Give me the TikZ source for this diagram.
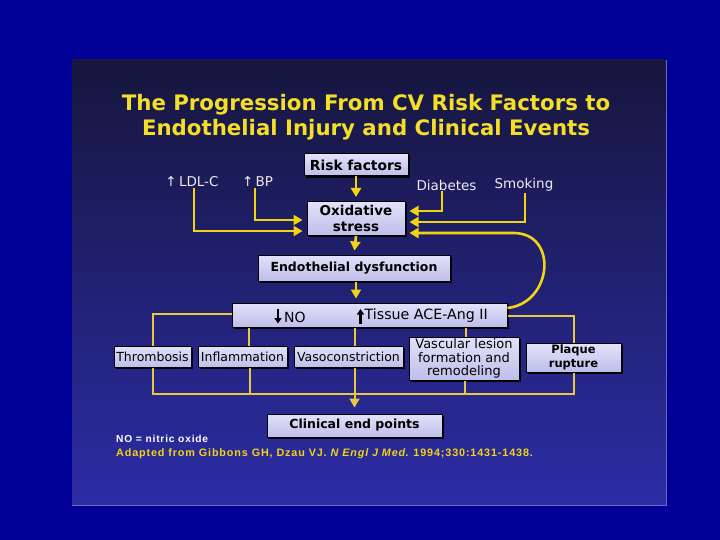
\documentclass[tikz,border=0pt]{standalone}
\usepackage{fontspec}
\setmainfont{DejaVu Sans}
\newfontfamily\arialf{Liberation Sans}[LetterSpace=8]
\usetikzlibrary{arrows.meta,shadows,calc}
\definecolor{outerbg}{RGB}{0,0,150}
\definecolor{paneltop}{RGB}{22,22,62}
\definecolor{panelbot}{RGB}{44,44,166}
\definecolor{ylw}{RGB}{242,212,20}
\definecolor{ttl}{RGB}{244,222,40}
\definecolor{ylwline}{RGB}{232,200,60}
\definecolor{boxtop}{RGB}{226,226,250}
\definecolor{boxbot}{RGB}{190,190,234}
\definecolor{lbl}{RGB}{236,236,242}
\tikzset{
  box/.style={draw=black, line width=1pt, top color=boxtop, bottom color=boxbot,
    inner sep=1pt, align=center, text=black,
    drop shadow={shadow xshift=1.6pt, shadow yshift=-1.6pt, opacity=0.9, fill=black}},
  boldtxt/.style={font=\fontsize{12.5}{14}\selectfont\bfseries},
  plaintxt/.style={font=\fontsize{12.5}{13.5}\selectfont},
  lbltxt/.style={text=lbl, inner sep=1pt, font=\fontsize{13.5}{15}\selectfont},
  yarrow/.style={draw=ylw, line width=2.6pt, -{Triangle[length=9pt,width=10pt]}, shorten >=4pt},
  conn/.style={draw=ylwline, line width=2pt},
  connarrow/.style={draw=ylwline, line width=2pt, -{Triangle[length=9pt,width=10pt]}, shorten >=6pt},
  glypharrow/.style={draw=black, line width=2.2pt, -{Triangle[length=5.5pt,width=7pt]}},
}
\begin{document}
\begin{tikzpicture}[x=1pt,y=-1pt]
\useasboundingbox (0,0) rectangle (720,540);
\fill[outerbg] (0,0) rectangle (720,540);
\shade[top color=paneltop, bottom color=panelbot] (72,60) rectangle (666,505);
\draw[panelbot!70!white, line width=0.6pt] (72,505) -- (666,505) -- (666,60);

% title
\node[text=ttl, font=\fontsize{21.3}{24}\selectfont\bfseries] (title1) at (366,105) {The Progression From CV Risk Factors to};
\node[text=ttl, font=\fontsize{21.3}{24}\selectfont\bfseries] (title2) at (366,130) {Endothelial Injury and Clinical Events};

% boxes
\node[box, font=\fontsize{13.8}{15}\selectfont\bfseries, minimum width=104pt, minimum height=22pt] (risk) at (356,165) {Risk factors};
\node[box, font=\fontsize{13.5}{15.5}\selectfont\bfseries, minimum width=98pt, minimum height=34pt] (ox) at (356,218.5) {Oxidative\\stress};
\node[box, boldtxt, minimum width=192pt, minimum height=26pt] (endo) at (354,268) {Endothelial dysfunction};
\node[box, minimum width=275pt, minimum height=24pt] (no) at (369.5,315) {};
\node[anchor=west, inner sep=0pt, font=\fontsize{14}{15}\selectfont] (notxt) at (284,317) {NO};
\node[anchor=west, inner sep=0pt, font=\fontsize{14.2}{15}\selectfont] (tissue) at (364.5,316) {Tissue ACE-Ang II};
\draw[glypharrow] (278,309) -- (278,323.5);
\draw[glypharrow] (360.5,323.5) -- (360.5,309);
\node[box, plaintxt, minimum width=77pt, minimum height=21pt] (thr) at (152.5,356.5) {Thrombosis};
\node[box, plaintxt, minimum width=89pt, minimum height=21pt] (inf) at (242.5,356.5) {Inflammation};
\node[box, plaintxt, minimum width=109pt, minimum height=21pt] (vaso) at (348.5,356.5) {Vasoconstriction};
\node[box, font=\fontsize{13}{13.6}\selectfont, minimum width=110pt, minimum height=43pt] (vasc) at (464,358.5) {Vascular lesion\\formation and\\remodeling};
\node[box, font=\fontsize{11.5}{14}\selectfont\bfseries, minimum width=95pt, minimum height=29pt] (plq) at (573.5,357.5) {Plaque\\rupture};
\node[box, boldtxt, minimum width=175pt, minimum height=23pt] (clin) at (354.5,425.5) {Clinical end points};

% risk labels
\node[lbltxt] (ldl) at (192,182) {↑\,LDL-C};
\node[lbltxt] (bp) at (257.5,182) {↑\,BP};
\node[lbltxt] (diab) at (446.5,185) {Diabetes};
\node[lbltxt] (smok) at (524,185) {Smoking};

% upper arrows
\draw[yarrow] (risk.south) -- (ox.north);
\draw[yarrow] (ox.south) -- (endo.north);
\draw[yarrow] ($(endo.south)+(2,0)$) coordinate (endoS) -- (endoS |- no.north);
\draw[yarrow] ($(ldl.south)+(2,0)$) |- ($(ox.west)+(0,12.5)$);
\draw[yarrow] ($(bp.south)+(-2.5,0)$) |- ($(ox.west)+(0,1.5)$);
\draw[yarrow] ($(diab.south)+(-4.5,0)$) |- ($(ox.east)+(0,-7.5)$);
\draw[yarrow] ($(smok.south)+(1,0)$) |- ($(ox.east)+(0,3.5)$);
\draw[yarrow] ($(no.east)+(0,-7)$) .. controls +(45,-5) and +(45,0) .. ($(ox.east)+(108,14.5)$) -- ($(ox.east)+(0,14.5)$);

% lower connectors
\draw[conn] ($(no.west)+(0,-1)$) -| (thr.north);
\draw[conn] ($(no.east)+(0,1)$) -| (plq.north);
\coordinate (infT) at ($(inf.north)+(6.5,0)$);
\draw[conn] (infT |- no.south) -- (infT);
\coordinate (vasoT) at ($(vaso.north)+(6.5,0)$);
\draw[conn] (vasoT |- no.south) -- (vasoT);
\coordinate (vascT) at ($(vasc.north)+(2,0)$);
\draw[conn] (vascT |- no.south) -- (vascT);

\coordinate (busR) at ($(plq.south)+(0,21)$);
\draw[conn] (thr.south) |- (busR) -- (plq.south);
\coordinate (infB) at ($(inf.south)+(7,0)$);
\draw[conn] (infB) -- (infB |- busR);
\coordinate (vascB) at ($(vasc.south)+(1,0)$);
\draw[conn] (vascB) -- (vascB |- busR);
\draw[connarrow] (clin.north |- vaso.south) -- (clin.north);

% footnotes
\node[anchor=west, inner sep=0pt, text=white, font=\arialf\bfseries\fontsize{10.2}{12}\selectfont] (nodef) at (116,439) {NO = nitric oxide};
\node[anchor=west, inner sep=0pt, text=ylw, font=\arialf\bfseries\fontsize{10.8}{12}\selectfont] (cite) at (116,454) {Adapted from Gibbons GH, Dzau VJ. \textit{N Engl J Med}. 1994;330:1431-1438.};
\end{tikzpicture}
\end{document}
